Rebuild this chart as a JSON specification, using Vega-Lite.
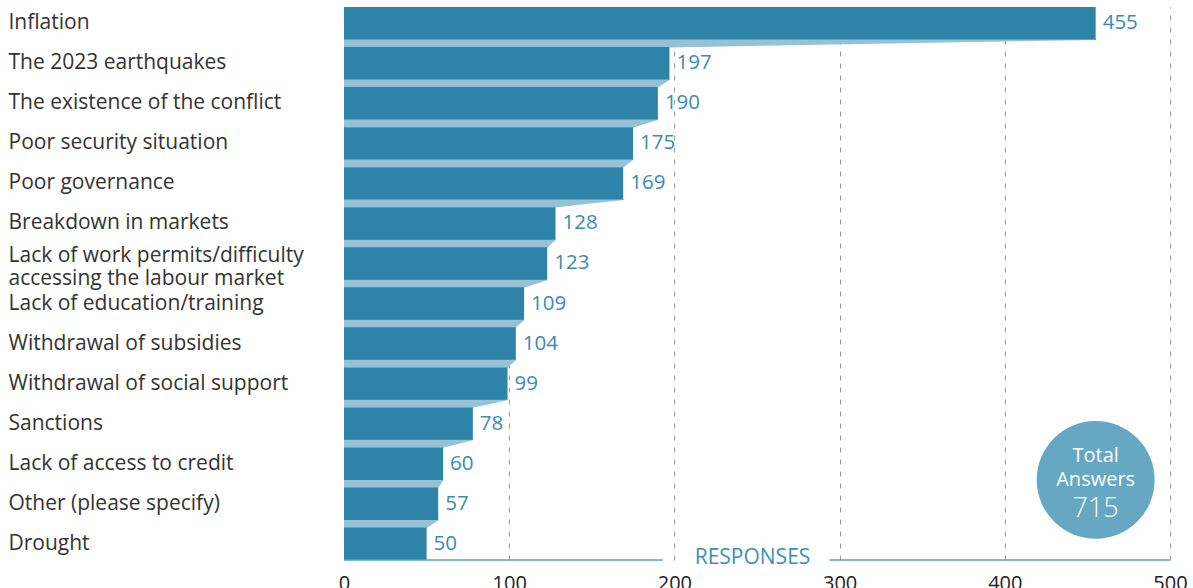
{
  "$schema": "https://vega.github.io/schema/vega-lite/v6.json",
  "autosize": {"type": "none"},
  "padding": {"left": 344, "top": 7, "right": 23, "bottom": 28},
  "width": 826,
  "height": 553,
  "background": "#ffffff",
  "datasets": {
    "answers": [
      {"label": "Inflation", "value": 455},
      {"label": "The 2023 earthquakes", "value": 197},
      {"label": "The existence of the conflict", "value": 190},
      {"label": "Poor security situation", "value": 175},
      {"label": "Poor governance", "value": 169},
      {"label": "Breakdown in markets", "value": 128},
      {"label": "Lack of work permits/difficulty accessing the labour market", "value": 123},
      {"label": "Lack of education/training", "value": 109},
      {"label": "Withdrawal of subsidies", "value": 104},
      {"label": "Withdrawal of social support", "value": 99},
      {"label": "Sanctions", "value": 78},
      {"label": "Lack of access to credit", "value": 60},
      {"label": "Other (please specify)", "value": 57},
      {"label": "Drought", "value": 50}
    ],
    "total": [{"answers": 715}]
  },
  "config": {
    "view": {"stroke": null},
    "font": "Open Sans",
    "axisX": {
      "grid": true,
      "gridDash": [5, 7],
      "gridColor": "#9a9a9a",
      "gridWidth": 1,
      "domain": false,
      "ticks": false,
      "tickSize": 0,
      "labelFont": "Open Sans",
      "labelFontSize": 20,
      "labelColor": "#222222",
      "labelPadding": 13,
      "labelBaseline": "top",
      "labelFlush": false,
      "labelOverlap": false,
      "titleFont": "Open Sans",
      "titleFontSize": 21,
      "titleFontWeight": "normal",
      "titleColor": "#3d8fb8",
      "titleBaseline": "alphabetic",
      "titleY": 3,
      "titleX": 408,
      "titleAlign": "center",
      "titleAnchor": null
    },
    "axisY": {
      "grid": false,
      "domain": false,
      "ticks": false,
      "tickSize": 0,
      "labelAlign": "left",
      "labelBaseline": "middle",
      "labelPadding": 336,
      "labelLimit": 0,
      "labelFont": "Open Sans",
      "labelFontSize": 21,
      "labelColor": "#333333",
      "labelLineHeight": 23
    }
  },
  "layer": [
    {
      "data": {"name": "answers"},
      "transform": [
        {"window": [{"op": "lead", "field": "value", "as": "next"}], "sort": [{"field": "value", "order": "descending"}]},
        {"filter": "datum.next != null"}
      ],
      "mark": {"type": "rule", "color": "#97c2d5", "strokeWidth": 16, "strokeCap": "butt"},
      "encoding": {
        "x": {"field": "next", "type": "quantitative", "scale": {"domain": [0, 500], "nice": false}, "title": "RESPONSES",
              "axis": {"values": [0, 100, 200, 300, 400, 500]}},
        "x2": {"datum": 0},
        "y": {"field": "label", "type": "nominal", "sort": null, "bandPosition": 1, "title": null,
              "scale": {"paddingInner": 0.19, "paddingOuter": 0},
              "axis": {
                "labelExpr": "datum.value == 'Lack of work permits/difficulty accessing the labour market' ? ['Lack of work permits/difficulty', 'accessing the labour market'] : datum.label",
                "labelOffset": {"condition": {"test": "datum.value == 'Lack of work permits/difficulty accessing the labour market'", "value": -7}, "value": 0}
              }}
      }
    },
    {
      "data": {"name": "answers"},
      "transform": [
        {"window": [{"op": "lead", "field": "value", "as": "next"}], "sort": [{"field": "value", "order": "descending"}]},
        {"filter": "datum.next != null"},
        {"fold": ["value", "next"], "as": ["edge", "val"]}
      ],
      "mark": {"type": "trail", "color": "#97c2d5"},
      "encoding": {
        "x": {"field": "val", "type": "quantitative", "title": "RESPONSES"},
        "y": {"field": "label", "type": "nominal", "sort": null, "bandPosition": 1, "title": null},
        "size": {"field": "edge", "type": "ordinal", "scale": {"domain": ["next", "value"], "range": [16, 0]}, "legend": null},
        "detail": {"field": "label", "type": "nominal"}
      }
    },
    {
      "data": {"name": "answers"},
      "mark": {"type": "bar", "color": "#2e83a8"},
      "encoding": {
        "x": {"field": "value", "type": "quantitative", "title": "RESPONSES"},
        "y": {"field": "label", "type": "nominal", "sort": null, "title": null}
      }
    },
    {
      "data": {"name": "answers"},
      "mark": {"type": "text", "align": "left", "baseline": "middle", "dx": 7, "fontSize": 20.5, "color": "#3b8cb2", "font": "Open Sans"},
      "encoding": {
        "x": {"field": "value", "type": "quantitative", "title": "RESPONSES"},
        "y": {"field": "label", "type": "nominal", "sort": null, "title": null},
        "text": {"field": "value", "type": "quantitative"}
      }
    },
    {
      "data": {"name": "total"},
      "mark": {"type": "circle", "color": "#66a7c4", "opacity": 1, "size": 13900},
      "encoding": {
        "x": {"datum": 455, "type": "quantitative"},
        "y": {"datum": "Lack of access to credit", "type": "nominal", "bandPosition": 1}
      }
    },
    {
      "data": {"name": "total"},
      "mark": {"type": "text", "text": ["Total", "Answers"], "align": "center", "baseline": "middle", "lineHeight": 24, "dy": -24, "fontSize": 20, "color": "#ffffff", "font": "Open Sans"},
      "encoding": {
        "x": {"datum": 455, "type": "quantitative"},
        "y": {"datum": "Lack of access to credit", "type": "nominal", "bandPosition": 1}
      }
    },
    {
      "data": {"name": "total"},
      "mark": {"type": "text", "align": "center", "baseline": "middle", "dy": 29, "fontSize": 27, "fontWeight": 300, "color": "#ffffff", "font": "Open Sans"},
      "encoding": {
        "x": {"datum": 455, "type": "quantitative"},
        "y": {"datum": "Lack of access to credit", "type": "nominal", "bandPosition": 1},
        "text": {"field": "answers", "type": "quantitative"}
      }
    },
    {
      "data": {"name": "total"},
      "mark": {"type": "rule", "color": "#5aa2c5", "strokeWidth": 1.5},
      "encoding": {
        "x": {"datum": 0, "type": "quantitative"},
        "x2": {"datum": 193},
        "y": {"datum": "Drought", "type": "nominal", "bandPosition": 1}
      }
    },
    {
      "data": {"name": "total"},
      "mark": {"type": "rule", "color": "#5aa2c5", "strokeWidth": 1.5},
      "encoding": {
        "x": {"datum": 294, "type": "quantitative"},
        "x2": {"datum": 500},
        "y": {"datum": "Drought", "type": "nominal", "bandPosition": 1}
      }
    }
  ]
}
